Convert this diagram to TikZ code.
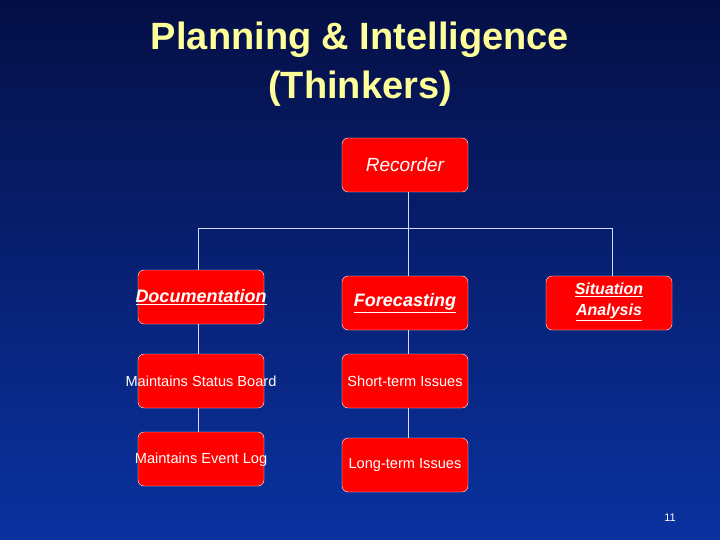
\documentclass[tikz,border=0pt]{standalone}
\usepackage{fontspec}
\setmainfont{Liberation Sans}
\begin{document}
\begin{tikzpicture}[x=1pt,y=-1pt,
  box/.style={draw=white,fill=red,rounded corners=6pt,minimum width=126pt,minimum height=54pt,inner sep=0pt},
  lbl/.style={text=white,inner sep=0pt,align=center},
  big/.style={lbl,font=\fontsize{18}{22}\selectfont\bfseries\itshape},
  small/.style={lbl,font=\fontsize{14.6}{16}\selectfont},
  conn/.style={draw=white!85!blue,line width=0.6pt}]
\shade[top color={rgb,255:red,5;green,15;blue,70},bottom color={rgb,255:red,10;green,50;blue,160}] (0,0) rectangle (720,540);
\useasboundingbox (0,0) rectangle (720,540);
\node[text={rgb,255:red,255;green,255;blue,153},font=\fontsize{38}{49}\selectfont\bfseries,align=center] (title) at (360,64) {Planning \& Intelligence\\(Thinkers)};
\node[box] (rec) at (405,165) {};
\node[box] (doc) at (201,297) {};
\node[box] (fc) at (405,303) {};
\node[box] (sit) at (609,303) {};
\node[box] (sb) at (201,381) {};
\node[box] (el) at (201,459) {};
\node[box] (st) at (405,381) {};
\node[box] (lt) at (405,465) {};
\node[lbl,font=\fontsize{19}{22}\selectfont\itshape] (recl) at (rec) {Recorder};
\node[big] (docl) at (doc) {\underline{Documentation}};
\node[big] (fcl) at (fc) {\underline{Forecasting}};
\node[big,font=\fontsize{16}{21}\selectfont\bfseries\itshape] (sitl) at ([yshift=1pt]sit) {\underline{Situation}\\\underline{Analysis}};
\node[small] (sbl) at (sb) {Maintains Status Board};
\node[small] (ell) at ([yshift=-1pt]el) {Maintains Event Log};
\node[small] (stl) at (st) {Short-term Issues};
\node[small] (ltl) at (lt) {Long-term Issues};
\coordinate (j) at (408,228);
\coordinate (jl) at (198,228);
\coordinate (jr) at (612,228);
\draw[conn] (408,192) -- (j);
\draw[conn] (jl) -- (jr);
\draw[conn] (jl) -- (198,270);
\draw[conn] (j) -- (408,276);
\draw[conn] (jr) -- (612,276);
\draw[conn] (198,324) -- (198,354);
\draw[conn] (198,408) -- (198,432);
\draw[conn] (408,330) -- (408,354);
\draw[conn] (408,408) -- (408,438);
\node[text=white,font=\fontsize{11}{13}\selectfont] (pg) at (670,518) {11};
\end{tikzpicture}
\end{document}
